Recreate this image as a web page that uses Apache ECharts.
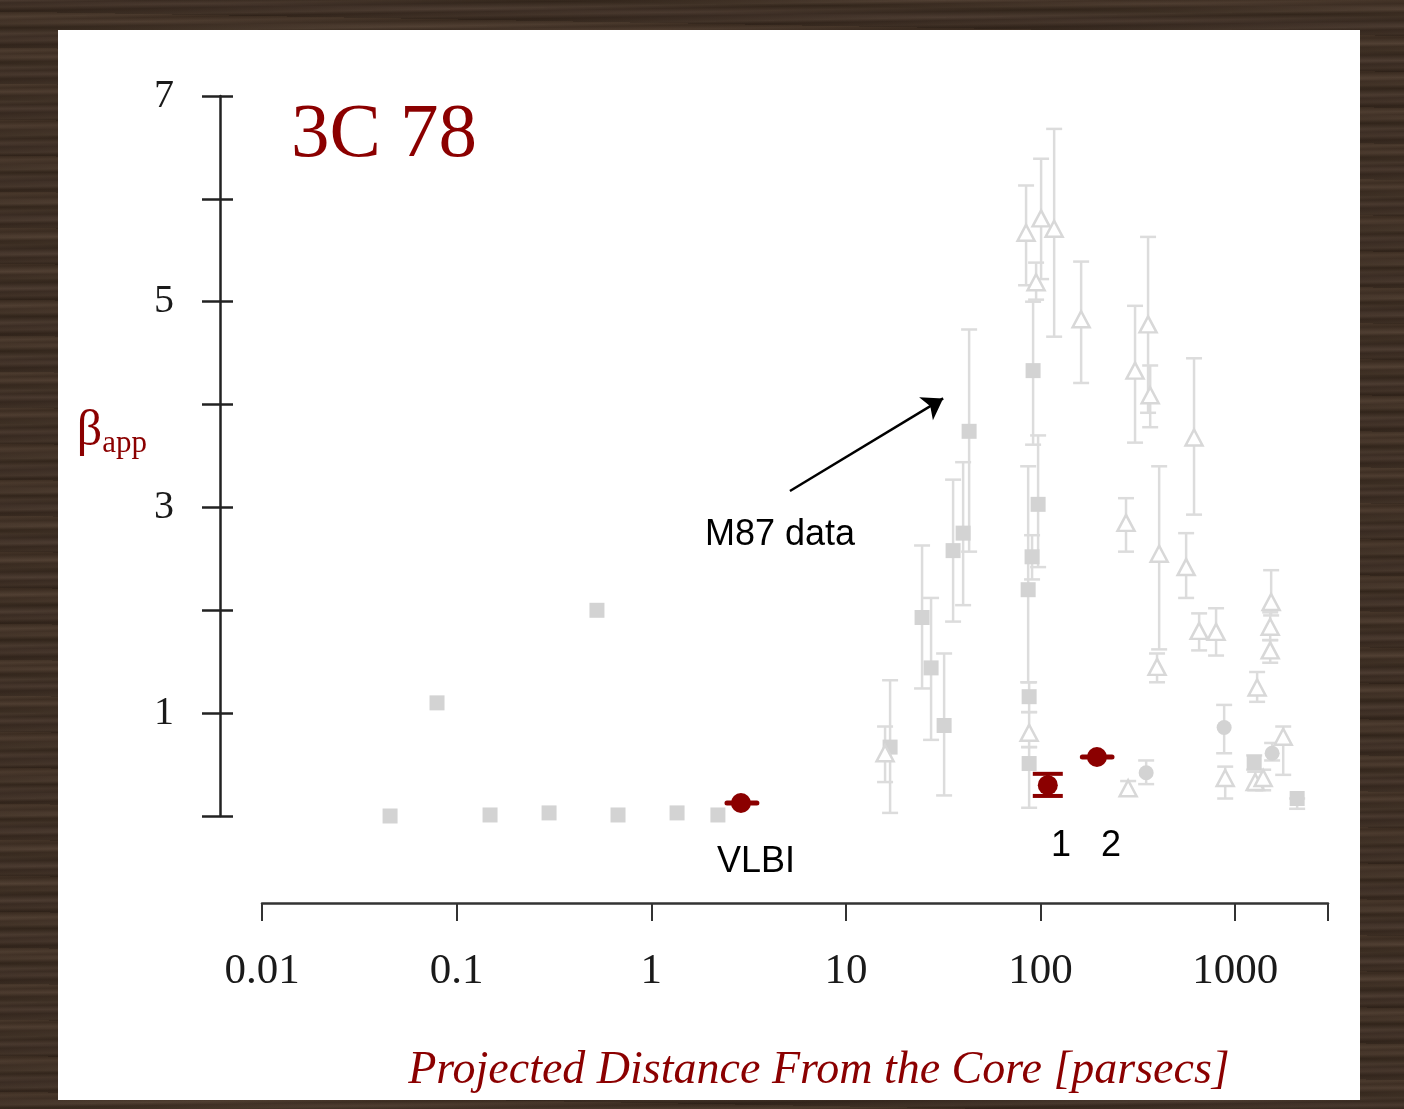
<!DOCTYPE html>
<html>
<head>
<meta charset="utf-8">
<script src="https://cdn.jsdelivr.net/npm/echarts@6/dist/echarts.min.js"></script>
<style>
  html, body { margin: 0; padding: 0; }
  body {
    width: 1404px; height: 1109px; overflow: hidden; position: relative;
    background-color: #3b2b20;
    background-image:
      repeating-linear-gradient(179deg, rgba(255,235,210,0.05) 0px, rgba(0,0,0,0.08) 3px, rgba(255,235,210,0.04) 7px, rgba(0,0,0,0.10) 11px, rgba(255,235,210,0.06) 17px),
      repeating-linear-gradient(181deg, #3e2e22 0px, #47362a 8px, #36281d 16px, #423228 25px, #33251b 36px);
  }
  #chart { position: absolute; left: 58px; top: 30px; width: 1302px; height: 1070px; background: #ffffff; }
</style>
</head>
<body>
<div id="chart"></div>
<script>
// ---------- data (x = projected distance in pc, y = beta_app) ----------
// gray squares without error bars (inner M87 points)
const m87InnerSquares = [
  [0.0455, 0.00], [0.0793, 1.10], [0.1485, 0.01], [0.2985, 0.03],
  [0.526, 2.00], [0.675, 0.01], [1.357, 0.03], [2.20, 0.01]
];
// [x, y, yLow, yHigh]
const m87Squares = [
  [16.87, 0.67, 0.03, 1.32], [24.63, 1.93, 1.24, 2.63], [27.4, 1.44, 0.74, 2.12],
  [31.97, 0.88, 0.20, 1.58], [35.55, 2.58, 1.89, 3.27], [40.03, 2.75, 2.05, 3.44],
  [42.97, 3.74, 2.57, 4.73], [91.6, 4.33, 3.61, 5.00], [97.2, 3.03, 2.42, 3.70],
  [90.5, 2.52, 2.30, 2.73], [86.4, 2.20, 1.30, 3.40], [87.4, 1.16, 1.01, 1.30],
  [87.4, 0.51, 0.08, 0.67], [1253, 0.52, 0.45, 0.59], [2083, 0.17, 0.07, 0.17]
];
const m87Triangles = [
  [15.9, 0.61, 0.33, 0.87], [84.3, 5.67, 5.16, 6.13], [100.7, 5.81, 5.22, 6.39],
  [117.5, 5.71, 4.66, 6.68], [94.9, 5.19, 5.02, 5.38], [161.7, 4.83, 4.21, 5.39],
  [306, 4.33, 3.63, 4.96], [357, 4.78, 3.92, 5.63], [366, 4.09, 3.78, 4.38],
  [275, 2.85, 2.57, 3.09], [407, 2.55, 1.62, 3.40], [397, 1.45, 1.30, 1.58],
  [560, 2.42, 2.12, 2.75], [615, 3.68, 2.93, 4.45], [653, 1.80, 1.61, 1.97],
  [798, 1.79, 1.56, 2.02], [1297, 1.25, 1.11, 1.40], [1531, 2.08, 1.95, 2.39],
  [1514, 1.84, 1.71, 1.98], [1514, 1.61, 1.49, 1.71], [1766, 0.77, 0.40, 0.87],
  [889, 0.37, 0.17, 0.48], [1268, 0.33, 0.25, 0.43], [1393, 0.37, 0.25, 0.45],
  [282, 0.27, 0.20, 0.34], [87.4, 0.81, 0.67, 1.01]
];
const m87Circles = [
  [349, 0.42, 0.31, 0.54], [878, 0.86, 0.61, 1.08], [1549, 0.61, 0.54, 0.71]
];
// 3C 78: [x, y, yLow, yHigh, xLow, xHigh]
const c78Points = [
  [2.89, 0.126, 0.126, 0.126, 2.45, 3.49],
  [109, 0.30, 0.195, 0.41, 109, 109],
  [195, 0.574, 0.574, 0.574, 164, 233]
];
const c78Labels = ['VLBI', '1', '2'];
const yTickLabels = [1, 3, 5, 7];
const xTickLabels = [0.01, 0.1, 1, 10, 100, 1000];
const arrowFrom = [5.16, 3.16];
const arrowTo = [31.6, 4.06];

// ---------- chart ----------
const chart = echarts.init(document.getElementById('chart'));
const GRAY = '#d8d8d8';
const RED = '#8b0000';
const SERIF = '"Liberation Serif", "Times New Roman", serif';
const SANS = '"Liberation Sans", Arial, sans-serif';

function grayErr(params, api) {
  const x = api.value(0), lo = api.value(2), hi = api.value(3);
  const a = api.coord([x, lo]), b = api.coord([x, hi]);
  const st = { stroke: '#dcdcdc', lineWidth: 2.5 };
  const cap = 8;
  return {
    type: 'group',
    children: [
      { type: 'line', shape: { x1: a[0], y1: a[1], x2: b[0], y2: b[1] }, style: st },
      { type: 'line', shape: { x1: a[0] - cap, y1: a[1], x2: a[0] + cap, y2: a[1] }, style: st },
      { type: 'line', shape: { x1: b[0] - cap, y1: b[1], x2: b[0] + cap, y2: b[1] }, style: st }
    ]
  };
}
function redErr(params, api) {
  const x = api.value(0), y = api.value(1);
  const lo = api.value(2), hi = api.value(3), xl = api.value(4), xh = api.value(5);
  const children = [];
  if (hi > lo) {
    const a = api.coord([x, lo]), b = api.coord([x, hi]);
    const st = { stroke: RED, lineWidth: 4 };
    const cap = 15;
    children.push(
      { type: 'line', shape: { x1: a[0], y1: a[1], x2: b[0], y2: b[1] }, style: st },
      { type: 'line', shape: { x1: a[0] - cap, y1: a[1], x2: a[0] + cap, y2: a[1] }, style: st },
      { type: 'line', shape: { x1: b[0] - cap, y1: b[1], x2: b[0] + cap, y2: b[1] }, style: st }
    );
  }
  if (xh > xl) {
    const a = api.coord([xl, y]), b = api.coord([xh, y]);
    children.push({ type: 'line', shape: { x1: a[0], y1: a[1], x2: b[0], y2: b[1] },
      style: { stroke: RED, lineWidth: 5, lineCap: 'round' } });
  }
  return { type: 'group', children };
}

const yAxisBase = {
  type: 'value', min: 0, max: 7, interval: 1, position: 'left', offset: 42,
  splitLine: { show: false }
};

const option = {
  animation: false,
  backgroundColor: '#ffffff',
  title: {
    text: '3C 78', left: 228, top: 62,
    textStyle: { fontFamily: SERIF, fontSize: 77, fontWeight: 'normal', color: RED }
  },
  grid: { left: 204, right: 32, top: 66, bottom: 284, outerBoundsMode: 'none' },
  xAxis: {
    type: 'log', min: 0.01, max: 3000, position: 'bottom', offset: 87,
    axisLine: { onZero: false, lineStyle: { color: '#333', width: 2.5 } },
    axisTick: { inside: false, length: 18, lineStyle: { color: '#333', width: 2 } },
    minorTick: { show: false },
    splitLine: { show: false },
    axisLabel: {
      margin: 47, fontFamily: SERIF, fontSize: 43, color: '#1a1a1a',
      formatter: function (v) {
        const l = Math.log10(v);
        const e = Math.round(l);
        if (Math.abs(l - e) > 1e-6) return '';
        const val = Math.pow(10, e);
        const hit = xTickLabels.some(t => Math.abs(Math.log10(t) - e) < 1e-6);
        if (!hit) return '';
        return e < 0 ? val.toFixed(-e) : String(Math.round(val));
      }
    },
    name: 'Projected Distance From the Core [parsecs]',
    nameLocation: 'middle', nameGap: 145,
    nameTextStyle: { fontFamily: SERIF, fontStyle: 'italic', fontSize: 46, color: RED, padding: [0, 0, 0, 48] }
  },
  yAxis: [
    Object.assign({}, yAxisBase, {
      axisLine: { show: true, onZero: false, lineStyle: { color: '#222', width: 2.5 } },
      axisTick: { inside: false, length: 18, lineStyle: { color: '#222', width: 2.5 } },
      axisLabel: {
        margin: 46, fontFamily: SERIF, fontSize: 40, color: '#1a1a1a',
        formatter: v => (yTickLabels.indexOf(v) >= 0 ? String(v) : '')
      },
      name: '{b|β}{s|app}',
      nameLocation: 'middle', nameRotate: 0, nameGap: 73,
      nameTextStyle: {
        padding: [0, 0, 48, 0],
        rich: {
          b: { fontFamily: SERIF, fontSize: 50, color: RED, lineHeight: 54 },
          s: { fontFamily: SERIF, fontSize: 31, color: RED, lineHeight: 32, verticalAlign: 'bottom' }
        }
      }
    }),
    Object.assign({}, yAxisBase, {
      axisLine: { show: false, onZero: false },
      axisTick: { inside: true, length: 13, lineStyle: { color: '#222', width: 2.5 } },
      axisLabel: { show: false }
    })
  ],
  graphic: [
    { type: 'text', style: { x: 722, y: 505, text: 'M87 data', font: '36px ' + SANS, fill: '#000', align: 'center', verticalAlign: 'middle' } },
    { type: 'text', style: { x: 698, y: 832, text: c78Labels[0], font: '36px ' + SANS, fill: '#000', align: 'center', verticalAlign: 'middle' } },
    { type: 'text', style: { x: 1003, y: 816, text: c78Labels[1], font: '36px ' + SANS, fill: '#000', align: 'center', verticalAlign: 'middle' } },
    { type: 'text', style: { x: 1053, y: 816, text: c78Labels[2], font: '36px ' + SANS, fill: '#000', align: 'center', verticalAlign: 'middle' } }
  ],
  series: [
    {
      type: 'custom', name: 'M87 error bars', renderItem: grayErr,
      data: m87Squares.concat(m87Triangles, m87Circles),
      encode: { x: 0, y: 1 }, silent: true, z: 1
    },
    {
      type: 'scatter', name: 'M87 inner', data: m87InnerSquares,
      symbol: 'rect', symbolSize: 15, itemStyle: { color: '#d3d3d3', opacity: 1 }, z: 2,
      markLine: {
        silent: true, symbol: ['none', 'arrow'], symbolSize: 20,
        lineStyle: { color: '#000', width: 2.5, type: 'solid', opacity: 1 },
        label: { show: false },
        data: [[{ coord: arrowFrom }, { coord: arrowTo }]]
      }
    },
    {
      type: 'scatter', name: 'M87 squares', data: m87Squares.map(d => [d[0], d[1]]),
      symbol: 'rect', symbolSize: 15, itemStyle: { color: '#d3d3d3', opacity: 1 }, z: 2
    },
    {
      type: 'scatter', name: 'M87 triangles', data: m87Triangles.map(d => [d[0], d[1]]),
      symbol: 'triangle', symbolSize: [17, 16],
      itemStyle: { color: '#ffffff', borderColor: GRAY, borderWidth: 2.5, opacity: 1 }, z: 2
    },
    {
      type: 'scatter', name: 'M87 circles', data: m87Circles.map(d => [d[0], d[1]]),
      symbol: 'circle', symbolSize: 15, itemStyle: { color: '#d3d3d3', opacity: 1 }, z: 2
    },
    {
      type: 'custom', name: '3C 78 error bars', renderItem: redErr,
      data: c78Points, encode: { x: 0, y: 1 }, silent: true, z: 3
    },
    {
      type: 'scatter', name: '3C 78', data: c78Points.map(d => [d[0], d[1]]),
      symbol: 'circle', symbolSize: 20, itemStyle: { color: RED, opacity: 1 }, z: 4
    }
  ]
};
chart.setOption(option);
</script>
</body>
</html>
